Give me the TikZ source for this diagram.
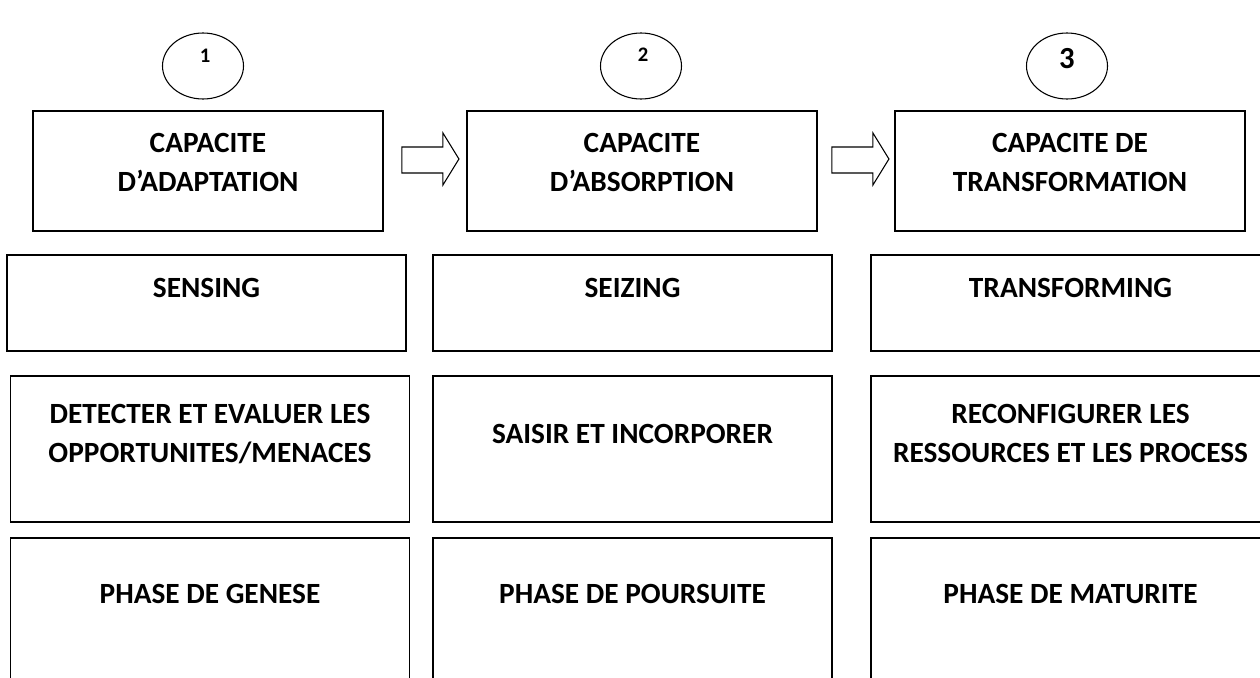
\documentclass[tikz,border=0pt]{standalone}
\usepackage{fontspec}
\setmainfont{Carlito}
\usetikzlibrary{positioning,calc,shapes.geometric}

\begin{document}
\begin{tikzpicture}[x=0.75pt, y=-0.75pt,
  capbox/.style={draw, line width=1.4pt, minimum width=262.5pt, minimum height=90pt, inner sep=0pt},
  rowbox/.style={draw, line width=1.4pt, minimum width=299.25pt, inner sep=0pt},
  numcirc/.style={ellipse, draw, line width=0.8pt, minimum width=60.75pt, minimum height=49.5pt, inner sep=0pt},
  lbl/.style={anchor=north, inner sep=0pt, align=center, font=\bfseries\fontsize{22}{29}\selectfont},
  numlbl/.style={inner sep=0pt, font=\bfseries\fontsize{15.5}{18}\selectfont},
  blockarr/.style={draw, line width=0.8pt, line join=miter} ]

\clip (0,0) rectangle (1260,678);

% numbered circles
\node[numcirc] (c1) at (203,66) {};
\node[numcirc] (c2) at (641,66) {};
\node[numcirc] (c3) at (1067,66) {};
\node[numlbl] (n1) at (205,56) {1};
\node[numlbl] (n2) at (643,55) {2};
\node[numlbl, font=\bfseries\fontsize{23}{26}\selectfont] (n3) at (1067,59) {3};

% capacites
\node[capbox] (cap1) at (208,171) {};
\node[capbox] (cap2) at (642,171) {};
\node[capbox] (cap3) at (1070,171) {};
\node[lbl, below=17.25pt of cap1.north] (cap1t) {CAPACITE\\D’ADAPTATION};
\node[lbl, below=17.25pt of cap2.north] (cap2t) {CAPACITE\\D’ABSORPTION};
\node[lbl, below=17.25pt of cap3.north] (cap3t) {CAPACITE DE\\TRANSFORMATION};

\draw[blockarr] ($(cap1.east)+(18,-24)$) -- ++(41,0) -- ++(0,-14) -- ++(16,26) -- ++(-16,26) -- ++(0,-12) -- ++(-41,0) -- cycle;
\draw[blockarr] ($(cap2.east)+(14,-24)$) -- ++(41,0) -- ++(0,-14) -- ++(16,26) -- ++(-16,26) -- ++(0,-12) -- ++(-41,0) -- cycle;

% sensing / seizing / transforming
\node[rowbox, minimum height=72pt] (s1) at (206.5,303) {};
\node[rowbox, minimum height=72pt] (s2) at (632.5,303) {};
\node[rowbox, minimum height=72pt] (s3) at (1070.5,303) {};
\node[lbl, below=18pt of s1.north] (s1t) {SENSING};
\node[lbl, below=18pt of s2.north] (s2t) {SEIZING};
\node[lbl, below=18pt of s3.north] (s3t) {TRANSFORMING};

% actions
\node[rowbox, minimum height=109.5pt] (a1) at (210,449) {};
\node[rowbox, minimum height=109.5pt] (a2) at (632.5,449) {};
\node[rowbox, minimum height=109.5pt] (a3) at (1070.5,449) {};
\node[lbl, below=21.75pt of a1.north] (a1t) {DETECTER ET EVALUER LES\\OPPORTUNITES/MENACES};
\node[lbl, below=36.75pt of a2.north] (a2t) {SAISIR ET INCORPORER};
\node[lbl, below=21.75pt of a3.north] (a3t) {RECONFIGURER LES\\RESSOURCES ET LES PROCESS};

% phases
\node[rowbox, minimum height=109.5pt] (p1) at (210,611) {};
\node[rowbox, minimum height=109.5pt] (p2) at (632.5,611) {};
\node[rowbox, minimum height=109.5pt] (p3) at (1070.5,611) {};
\node[lbl, below=35.25pt of p1.north] (p1t) {PHASE DE GENESE};
\node[lbl, below=35.25pt of p2.north] (p2t) {PHASE DE POURSUITE};
\node[lbl, below=35.25pt of p3.north] (p3t) {PHASE DE MATURITE};

\end{tikzpicture}
\end{document}
